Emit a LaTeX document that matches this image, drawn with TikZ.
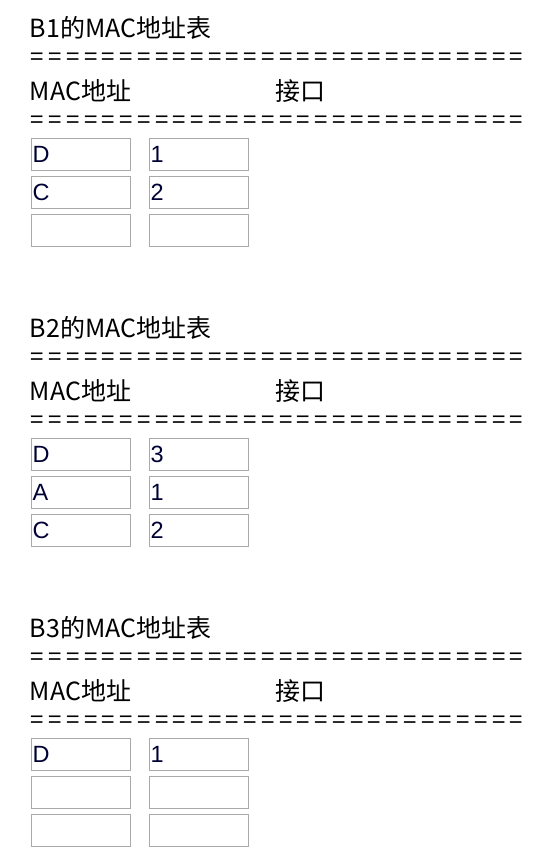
\documentclass[tikz,border=0pt]{standalone}
\usepackage{fontspec}
\newfontfamily\cjkf{Noto Sans CJK SC}
\newfontfamily\arialf{Liberation Sans}
\definecolor{boxgray}{HTML}{A9A9A9}
\definecolor{inktext}{HTML}{000035}
\tikzset{
  titletext/.style={anchor=base west, inner sep=0pt, outer sep=0pt, font=\cjkf\fontsize{25}{25}\selectfont},
  eqsign/.style={anchor=center, inner sep=0pt, outer sep=0pt, font=\cjkf\fontsize{24}{24}\selectfont},
  cell/.style={draw=boxgray, line width=1pt, anchor=north west, outer sep=0pt,
    minimum width=99pt, minimum height=32pt, inner xsep=1pt, inner ysep=0pt,
    text width=97pt, align=left, text=inktext, font=\arialf\fontsize{23.5}{23.5}\selectfont}
}
\newcommand\mactable[8]{%
  \node[titletext] (t#2) at (30,{37+#1}) {B#2的MAC地址表};
  \foreach \i in {0,...,27} {
    \node[eqsign] (ea#2-\i) at ({37.5+\i*17.74},{59+#1}) {=};
    \node[eqsign] (eb#2-\i) at ({37.5+\i*17.74},{122+#1}) {=};
  }
  \node[titletext] (m#2) at (30,{100+#1}) {MAC地址};
  \node[titletext] (p#2) at (275,{100+#1}) {接口};
  \node[cell] (a#2-1) at (31.5,{138.5+#1}) {#3};
  \node[cell] (b#2-1) at (149.5,{138.5+#1}) {#4};
  \node[cell] (a#2-2) at (31.5,{176.5+#1}) {#5};
  \node[cell] (b#2-2) at (149.5,{176.5+#1}) {#6};
  \node[cell] (a#2-3) at (31.5,{214.5+#1}) {#7};
  \node[cell] (b#2-3) at (149.5,{214.5+#1}) {#8};
}
\begin{document}
\begin{tikzpicture}[x=1pt,y=-1pt]
  \useasboundingbox[fill=white] (0,0) rectangle (548,868);
  \mactable{0}{1}{D}{1}{C}{2}{}{}
  \mactable{300}{2}{D}{3}{A}{1}{C}{2}
  \mactable{600}{3}{D}{1}{}{}{}{}
\end{tikzpicture}
\end{document}
